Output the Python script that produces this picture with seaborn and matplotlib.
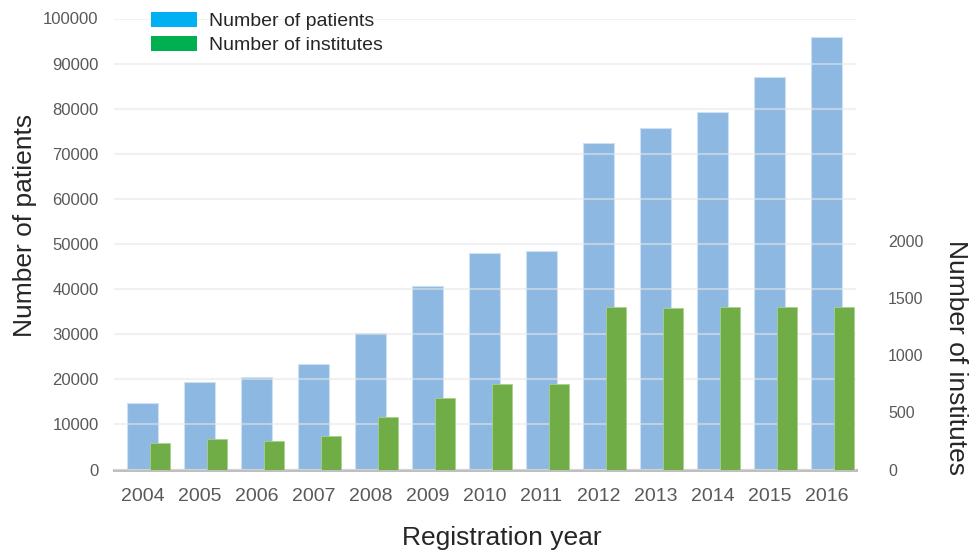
import numpy as np
import pandas as pd
import matplotlib
matplotlib.use("Agg")
import matplotlib.pyplot as plt
from matplotlib.patches import Patch
import seaborn as sns

# Registry counts per registration year
years = [2004, 2005, 2006, 2007, 2008, 2009, 2010, 2011, 2012, 2013, 2014, 2015, 2016]
patients = [14700, 19400, 20400, 23500, 30300, 40700, 48000, 48400, 72300, 75700, 79300, 87000, 95800]
institutes = [229, 267, 252, 296, 457, 626, 749, 749, 1426, 1414, 1423, 1421, 1421]

patient_ticks = [0, 10000, 20000, 30000, 40000, 50000, 60000, 70000, 80000, 90000, 100000]
institute_ticks = [0, 500, 1000, 1500, 2000]

BAR_BLUE = "#8db8e2"
BAR_GREEN = "#70ad47"
KEY_BLUE = "#00b0f0"
KEY_GREEN = "#00b050"
TICK_GREY = "#595959"

sns.set_style("white")
plt.rcParams["font.family"] = ["Liberation Sans", "DejaVu Sans"]

df = pd.DataFrame({"year": years, "patients": patients, "institutes": institutes})
df["inst_pos"] = df["year"] + 0.31

fig = plt.figure(figsize=(9.79, 5.56), dpi=100)
ax1 = fig.add_axes([114 / 979, 1 - 469.5 / 556, (856 - 114) / 979, (469.5 - 18.5) / 556])

sns.barplot(data=df, x="year", y="patients", native_scale=True, width=0.555,
            color=BAR_BLUE, saturation=1, edgecolor="#cfe0f3", linewidth=0.8,
            ax=ax1, zorder=1)
ax1.set_ylim(0, 100000)
ax1.set_xlim(2004 - 0.5, 2016 + 0.52)
ax1.set_yticks(patient_ticks)
ax1.set_yticklabels([str(v) for v in patient_ticks])
ax1.set_xticks(years)
ax1.set_xticklabels([str(y) for y in years])
ax1.yaxis.grid(True, color="#e6e6e6", linewidth=1.5, alpha=0.55, zorder=2)
ax1.set_axisbelow(False)
ax1.tick_params(axis="y", length=0, pad=11, labelsize=12, labelcolor=TICK_GREY)
ax1.tick_params(axis="x", length=0, pad=13, labelsize=14, labelcolor=TICK_GREY)
for side in ["top", "left", "right"]:
    ax1.spines[side].set_visible(False)
ax1.spines["bottom"].set_color("#bfbfbf")
ax1.spines["bottom"].set_linewidth(2.2)
ax1.set_xlabel("Registration year", fontsize=19)
ax1.xaxis.set_label_coords(0.523, -0.1246)
ax1.set_ylabel("Number of patients", fontsize=19)
ax1.yaxis.set_label_coords(-0.1038, 0.542)

ax2 = ax1.twinx()
sns.barplot(data=df, x="inst_pos", y="institutes", native_scale=True, width=0.356,
            color=BAR_GREEN, saturation=1, edgecolor="#a9d18e", linewidth=0.6,
            ax=ax2, zorder=3)
ax2.set_ylim(0, 3950)
ax2.set_xlim(ax1.get_xlim())
ax2.set_yticks(institute_ticks)
ax2.set_yticklabels([str(v) for v in institute_ticks])
ax2.tick_params(axis="y", length=0, pad=23, labelsize=11.5, labelcolor=TICK_GREY)
ax2.set_xlabel("")
ax2.grid(False)
for side in ["top", "left", "right", "bottom"]:
    ax2.spines[side].set_visible(False)
ax2.set_ylabel("Number of institutes", fontsize=19, rotation=-90, va="bottom")
ax2.yaxis.set_label_coords(1.118, 0.2494)

handles = [Patch(facecolor=KEY_BLUE, edgecolor="none", label="Number of patients"),
           Patch(facecolor=KEY_GREEN, edgecolor="none", label="Number of institutes")]
fig.legend(handles=handles, loc="upper left", bbox_to_anchor=(151 / 979, 1 - 12 / 556),
           frameon=False, fontsize=14, handlelength=2.36, handleheight=0.8,
           handletextpad=0.62, labelspacing=0.3, borderpad=0, borderaxespad=0)

fig.savefig("out.png", dpi=100)
